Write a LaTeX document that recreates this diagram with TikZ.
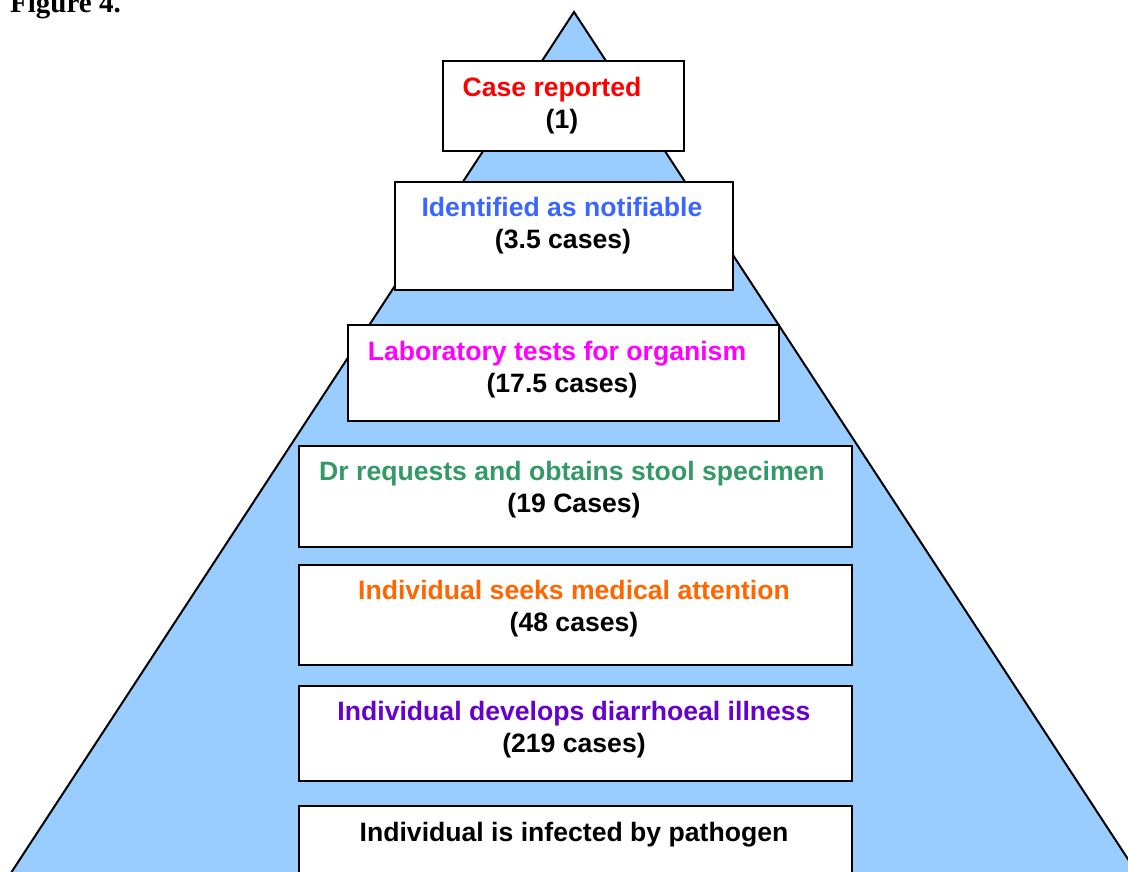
\documentclass[tikz,border=0pt]{standalone}
\usepackage{fontspec}
\setmainfont{Liberation Sans}
\newfontfamily\figserif{Liberation Serif}
\usepackage{tikz}
\usetikzlibrary{positioning}
\definecolor{pyrsky}{HTML}{99CCFF}
\definecolor{pyrred}{HTML}{FF0000}
\definecolor{pyrblue}{HTML}{3A66FF}
\definecolor{pyrmagenta}{HTML}{FF00FF}
\definecolor{pyrgreen}{HTML}{339966}
\definecolor{pyrorange}{HTML}{FF6600}
\definecolor{pyrpurple}{HTML}{6600CC}

\begin{document}
\begin{tikzpicture}[x=1pt, y=-1pt,
    stagebox/.style={draw, line width=2pt, fill=white, inner sep=0pt, anchor=north west},
    stagetxt/.style={font=\fontsize{26.6}{32}\selectfont\bfseries, anchor=base, inner sep=0pt},
  ]
  \useasboundingbox (0,0) rectangle (1128,871);
  \clip (0,0) rectangle (1128,871);

  % pyramid
  \coordinate (apex) at (574,12);
  \coordinate (baseL) at (-10,905);
  \coordinate (baseR) at (1158,905);
  \draw[line width=2pt, fill=pyrsky] (apex) -- (baseL) -- (baseR) -- cycle;

  \node[font=\figserif\fontsize{29}{34}\selectfont\bfseries, anchor=base west, inner sep=0pt]
    (figlabel) at (10,12) {Figure 4.};

  % stages, top to bottom
  \node[stagebox, minimum width=241pt, minimum height=90pt] (reported) at (442,60) {};
  \node[stagetxt, pyrred] (reportedA) at (552,96) {Case reported};
  \node[stagetxt] (reportedB) at (562,128) {(1)};

  \node[stagebox, minimum width=338pt, minimum height=108pt] (notifiable) at (394,181) {};
  \node[stagetxt, pyrblue] (notifiableA) at (562,216) {Identified as notifiable};
  \node[stagetxt] (notifiableB) at (563,248) {(3.5 cases)};

  \node[stagebox, minimum width=431pt, minimum height=96pt] (labtest) at (347,324) {};
  \node[stagetxt, pyrmagenta] (labtestA) at (557,360) {Laboratory tests for organism};
  \node[stagetxt] (labtestB) at (562,392) {(17.5 cases)};

  \node[stagebox, minimum width=553pt, minimum height=101pt] (stool) at (298,445) {};
  \node[stagetxt, pyrgreen] (stoolA) at (572,480) {Dr requests and obtains stool specimen};
  \node[stagetxt] (stoolB) at (574,512) {(19 Cases)};

  \node[stagebox, minimum width=553pt, minimum height=100pt] (medical) at (298,564) {};
  \node[stagetxt, pyrorange] (medicalA) at (574,599) {Individual seeks medical attention};
  \node[stagetxt] (medicalB) at (574,631) {(48 cases)};

  \node[stagebox, minimum width=553pt, minimum height=95pt] (illness) at (298,685) {};
  \node[stagetxt, pyrpurple] (illnessA) at (574,720) {Individual develops diarrhoeal illness};
  \node[stagetxt] (illnessB) at (574,752) {(219 cases)};

  \node[stagebox, minimum width=553pt, minimum height=95pt] (infected) at (298,805) {};
  \node[stagetxt] (infectedA) at (574,841) {Individual is infected by pathogen};
\end{tikzpicture}
\end{document}
